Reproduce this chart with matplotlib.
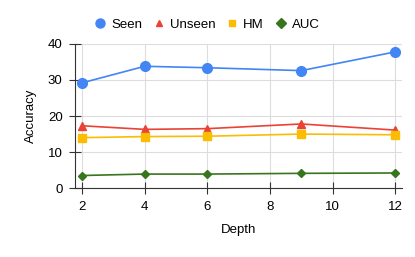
import matplotlib
matplotlib.use("Agg")
import matplotlib.pyplot as plt
from matplotlib.lines import Line2D

depth = [2, 4, 6, 9, 12]
seen = [29.2, 33.8, 33.4, 32.6, 37.8]
unseen = [17.3, 16.3, 16.5, 17.8, 16.1]
hm = [14.0, 14.3, 14.4, 15.0, 14.8]
auc = [3.5, 3.9, 3.9, 4.1, 4.2]

names = ["Seen", "Unseen", "HM", "AUC"]
colors = ["#4285F4", "#EA4335", "#FBBC04", "#38761D"]
markers = ["o", "^", "s", "D"]
sizes = [7, 5.5, 5.5, 4.5]

plt.rcParams["font.family"] = ["Liberation Sans", "DejaVu Sans"]
plt.rcParams["font.size"] = 9.5

fig = plt.figure(figsize=(4.15, 2.57), dpi=100)
ax = fig.add_axes([0.181, 0.268, 0.788, 0.561])

for ys, name, c, m, s in zip([seen, unseen, hm, auc], names, colors, markers, sizes):
    ax.plot(depth, ys, "-", marker=m, color=c, ms=s, lw=1.2, label=name)

ax.set_xlim(1.78, 12.22)
ax.set_ylim(0, 40)
ax.set_xticks([2, 4, 6, 8, 10, 12])
ax.set_yticks([0, 10, 20, 30, 40])
ax.grid(True, color="#dddddd", lw=0.8)
ax.set_axisbelow(True)
for s in ["top", "right"]:
    ax.spines[s].set_visible(False)
for s in ["left", "bottom"]:
    ax.spines[s].set_color("#333333")
ax.tick_params(direction="inout", length=8, color="#333333", labelsize=9.5, pad=5)
ax.set_xlabel("Depth", fontsize=9.5, labelpad=8)
ax.set_ylabel("Accuracy", fontsize=9.5, labelpad=8)

handles = [Line2D([], [], ls="none", marker=m, color=c, ms=s)
           for m, c, s in zip(markers, colors, [6.5, 5, 4.5, 5])]
fig.legend(handles, names, loc="upper center", bbox_to_anchor=(0.5, 0.975), ncol=4,
           frameon=False, handlelength=0.7, handletextpad=0.5, columnspacing=0.9,
           fontsize=9.5)

fig.savefig("out.png", dpi=100)
